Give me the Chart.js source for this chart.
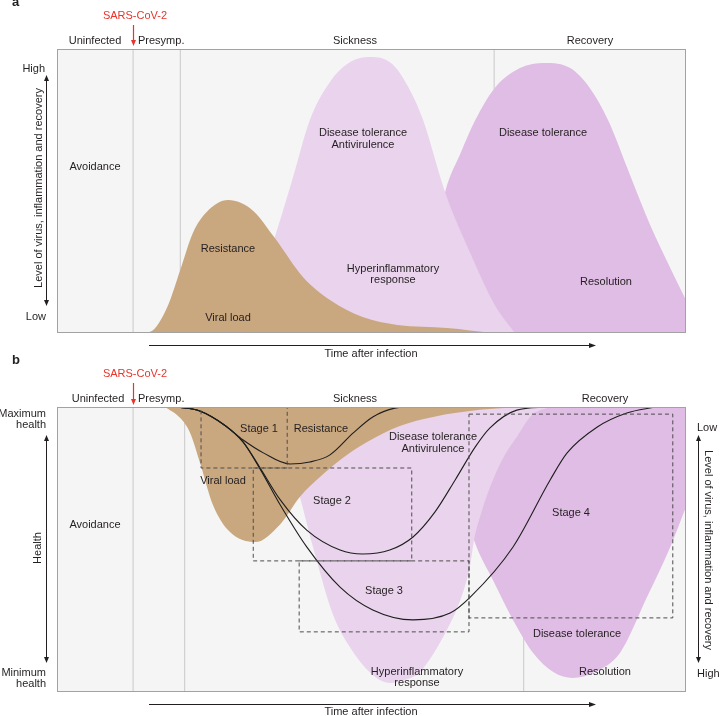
<!DOCTYPE html>
<html>
<head>
<meta charset="utf-8">
<script src="https://cdn.jsdelivr.net/npm/chart.js@4.4.1/dist/chart.umd.min.js"></script>
<style>
  html, body { margin: 0; padding: 0; background: #fff; }
  body { width: 720px; height: 716px; position: relative; overflow: hidden; }
  canvas { position: absolute; left: 0; top: 0; }
</style>
</head>
<body>
<canvas id="panelA" width="720" height="716"></canvas>
<canvas id="panelB" width="720" height="716"></canvas>
<script>
// x = time after infection (0-100), y = level (0 low .. 100 high) / health (0 min .. 100 max)
const phases = ['Uninfected', 'Presymp.', 'Sickness', 'Recovery'];
const phaseLinesA = [12.1, 19.6, 69.5];
const phaseLinesB = [12.1, 20.3, 74.2];

// panel a - levels
const viralA = [[13.2,0],[14.8,0.4],[17.5,9],[19.6,22.2],[21.6,35.2],[23.8,42.6],[27.2,46.8],[31.2,43.0],[34.6,33.5],[39.1,19.7],[43.4,11.6],[48.6,5.6],[54.1,2.8],[62.0,1.8],[69.3,0]];
const sicknessA = [[29.1,0],[31.5,11.6],[34.6,33.5],[37.4,53.9],[40.2,75.0],[43.4,88.4],[46.6,95.4],[49.8,97.2],[53.3,94.7],[56.1,85.6],[58.2,75.0],[61.7,49.6],[65.7,28.2],[69.6,9.9],[72.8,0]];
const recoveryA = [[54.5,0],[59.3,22.2],[61.7,49.6],[64.1,63.0],[66.5,75.0],[69.6,86.3],[73.6,93.3],[77.6,95.1],[81.6,93.3],[84.7,86.3],[87.6,75.0],[91.1,55.6],[94.3,38.0],[97.5,22.9],[100,11.6]];

// panel b - same processes hanging from maximum health
const viralB = [[17.2,100],[19.6,96.1],[21.1,91.2],[22.7,80.7],[24.8,65.6],[27.5,56.1],[31.5,52.6],[35.5,58.9],[38.6,68.4],[41.8,75.4],[45.0,81.4],[49.3,87.7],[54.5,93.3],[59.8,96.5],[67.2,99.0],[73.6,100]];
const sicknessB = [[30.7,100],[35.5,88.4],[38.3,70.9],[40.7,50.9],[43.9,27.0],[47.4,13.0],[50.6,5.3],[52.9,3.2],[55.3,4.2],[57.7,7.0],[62.0,21.8],[64.4,34.0],[65.7,44.6],[66.3,53.3],[67.6,63.9],[69.3,74.4],[71.2,83.2],[73.1,89.5],[75.5,97.2],[78.4,100]];
const recoveryB = [[59.3,100],[63.3,77.9],[66.3,53.3],[69.3,39.3],[72.5,25.3],[75.7,13.7],[78.9,7.0],[82.0,4.9],[85.5,7.0],[89.5,13.7],[93.8,33.3],[97.5,50.9],[100,64.9]];

// health trajectories
const health1 = [[19.1,100],[22.7,98.6],[26.6,93.7],[29.6,88.4],[32.8,83.9],[37.0,80.0],[40.2,80.7],[43.4,83.2],[47.1,90.9],[50.2,96.5],[53.7,99.6],[56.1,100]];
const health2 = [[19.1,100],[22.7,98.6],[26.6,93.7],[29.6,87.7],[32.3,78.6],[35.5,67.4],[39.7,56.8],[45.0,49.8],[48.6,48.4],[52.9,49.8],[56.6,54.4],[60.1,63.2],[63.3,74.4],[66.5,86.0],[68.8,92.6],[73.1,98.9],[77.9,100]];
const health3 = [[19.1,100],[22.7,98.6],[26.6,93.7],[29.6,87.7],[32.3,78.2],[35.5,65.6],[39.7,50.9],[45.0,36.8],[50.2,28.8],[56.6,25.3],[62.5,27.7],[65.7,33.3],[72.5,50.9],[78.4,74.4],[81.1,83.9],[85.9,93.0],[90.6,97.9],[95.1,100]];

// stage boxes [x0, x1, y0, y1]
const stages = [[22.9,36.6,78.6,100],[31.2,56.4,46.0,78.6],[38.5,65.5,21.1,46.0],[65.5,97.9,26.0,97.5]];

const FONT = '11px "Liberation Sans", Arial, sans-serif';
const INK = '#231f20';
const RED = '#e8342b';
const BROWN = '#c9a77f';
const LIGHT = '#ead3ed';
const DARK = '#e0bde4';

const pts = arr => arr.map(p => ({ x: p[0], y: p[1] }));

function area(arr, color, fill, order) {
    return { data: pts(arr), backgroundColor: color, borderWidth: 0, fill: fill, order: order,
             pointRadius: 0, cubicInterpolationMode: 'monotone', tension: 0.4 };
}
function phaseLine(x) {
    return { data: [{x: x, y: 0}, {x: x, y: 100}], borderColor: '#c9c9c9', borderWidth: 1,
             pointRadius: 0, fill: false, order: 9 };
}
function curve(arr) {
    return { data: pts(arr), borderColor: '#1e1e1e', borderWidth: 1.1, fill: false, order: 0,
             pointRadius: 0, cubicInterpolationMode: 'monotone', tension: 0.4 };
}
function box(b) {
    const d = [[b[0],b[3]],[b[1],b[3]],[b[1],b[2]],[b[0],b[2]],[b[0],b[3]]];
    return { data: pts(d), borderColor: '#4d4d4d', borderWidth: 1, borderDash: [4, 3], fill: false,
             order: 0, pointRadius: 0, tension: 0 };
}

// ---- drawing helpers for labels and axis arrows
function txt(ctx, s, x, y, align, color, font) {
    ctx.font = font || FONT;
    ctx.fillStyle = color || INK;
    ctx.textAlign = align || 'center';
    ctx.textBaseline = 'middle';
    ctx.fillText(s, x, y);
}
function rtxt(ctx, s, x, y, ang) {
    ctx.save(); ctx.translate(x, y); ctx.rotate(ang); txt(ctx, s, 0, 0); ctx.restore();
}
function head(ctx, x, y, dir, color) {
    ctx.fillStyle = color || INK;
    ctx.beginPath();
    if (dir === 'up') { ctx.moveTo(x, y); ctx.lineTo(x - 2.5, y + 6); ctx.lineTo(x + 2.5, y + 6); }
    else if (dir === 'down') { ctx.moveTo(x, y); ctx.lineTo(x - 2.5, y - 6); ctx.lineTo(x + 2.5, y - 6); }
    else { ctx.moveTo(x, y); ctx.lineTo(x - 7, y - 2.5); ctx.lineTo(x - 7, y + 2.5); }
    ctx.closePath(); ctx.fill();
}
function seg(ctx, x1, y1, x2, y2, color, w) {
    ctx.strokeStyle = color || INK; ctx.lineWidth = w || 1;
    ctx.beginPath(); ctx.moveTo(x1, y1); ctx.lineTo(x2, y2); ctx.stroke();
}

const framePlugin = {
    id: 'frame',
    beforeDatasetsDraw(chart) {
        const a = chart.chartArea, ctx = chart.ctx;
        ctx.save(); ctx.fillStyle = '#f5f5f5';
        ctx.fillRect(a.left, a.top, a.right - a.left, a.bottom - a.top); ctx.restore();
    },
    afterDraw(chart, args, opts) {
        const a = chart.chartArea, ctx = chart.ctx;
        ctx.save();
        ctx.strokeStyle = '#a2a2a2'; ctx.lineWidth = 1;
        ctx.strokeRect(a.left + 0.5, a.top + 0.5, a.right - a.left - 1, a.bottom - a.top - 1);
        if (opts.draw) opts.draw(ctx, a);
        ctx.restore();
    }
};

function makeChart(id, datasets, top, bottom, draw) {
    return new Chart(document.getElementById(id).getContext('2d'), {
        type: 'line',
        data: { datasets: datasets },
        options: {
            responsive: false, animation: false, devicePixelRatio: 1, events: [],
            layout: { padding: { left: 57, right: 34, top: top, bottom: bottom } },
            scales: {
                x: { type: 'linear', min: 0, max: 100, display: false },
                y: { type: 'linear', min: 0, max: 100, display: false }
            },
            plugins: { legend: { display: false }, tooltip: { enabled: false }, frame: { draw: draw } }
        },
        plugins: [framePlugin]
    });
}

function commonTop(ctx, yText, yLabels, yArrow0, yArrow1, lx) {
    txt(ctx, 'SARS-CoV-2', 135, yText, 'center', RED);
    seg(ctx, 133.5, yArrow0, 133.5, yArrow1 - 5, RED, 1.2);
    head(ctx, 133.5, yArrow1, 'down', RED);
    txt(ctx, phases[0], lx, yLabels);
    txt(ctx, phases[1], 138, yLabels, 'left');
}

// ---- panel a
makeChart('panelA', [
    area(viralA, BROWN, 'origin', 1),
    area(sicknessA, LIGHT, 'origin', 2),
    area(recoveryA, DARK, 'origin', 3),
    ...phaseLinesA.map(phaseLine)
], 49, 383, function (ctx) {
    txt(ctx, 'a', 12, 2, 'left', INK, 'bold 13px "Liberation Sans", Arial, sans-serif');
    commonTop(ctx, 16, 41, 25, 46, 95);
    txt(ctx, phases[2], 355, 41);
    txt(ctx, phases[3], 590, 41);
    // level axis
    seg(ctx, 46.5, 80, 46.5, 301);
    head(ctx, 46.5, 75, 'up'); head(ctx, 46.5, 306, 'down');
    txt(ctx, 'High', 45, 69, 'right');
    txt(ctx, 'Low', 46, 317, 'right');
    rtxt(ctx, 'Level of virus, inflammation and recovery', 39, 188, -Math.PI / 2);
    // time axis
    seg(ctx, 149, 345.5, 590, 345.5);
    head(ctx, 596, 345.5, 'right');
    txt(ctx, 'Time after infection', 371, 354);
    // inner labels
    txt(ctx, 'Avoidance', 95, 167);
    txt(ctx, 'Resistance', 228, 249);
    txt(ctx, 'Viral load', 228, 318);
    txt(ctx, 'Disease tolerance', 363, 133);
    txt(ctx, 'Antivirulence', 363, 145);
    txt(ctx, 'Hyperinflammatory', 393, 269);
    txt(ctx, 'response', 393, 280);
    txt(ctx, 'Disease tolerance', 543, 133);
    txt(ctx, 'Resolution', 606, 282);
});

// ---- panel b
makeChart('panelB', [
    ...stages.map(box),
    curve(health1), curve(health2), curve(health3),
    area(viralB, BROWN, 'end', 1),
    area(sicknessB, LIGHT, 'end', 2),
    area(recoveryB, DARK, 'end', 3),
    ...phaseLinesB.map(phaseLine)
], 407, 24, function (ctx) {
    txt(ctx, 'b', 12, 360, 'left', INK, 'bold 13px "Liberation Sans", Arial, sans-serif');
    commonTop(ctx, 374, 399, 383, 405, 98);
    txt(ctx, phases[2], 355, 399);
    txt(ctx, phases[3], 605, 399);
    // health axis
    seg(ctx, 46.5, 440, 46.5, 658);
    head(ctx, 46.5, 435, 'up'); head(ctx, 46.5, 663, 'down');
    txt(ctx, 'Maximum', 46, 414, 'right');
    txt(ctx, 'health', 46, 425, 'right');
    txt(ctx, 'Minimum', 46, 673, 'right');
    txt(ctx, 'health', 46, 684, 'right');
    rtxt(ctx, 'Health', 38, 548, -Math.PI / 2);
    // level axis on the right
    seg(ctx, 698.5, 440, 698.5, 658);
    head(ctx, 698.5, 435, 'up'); head(ctx, 698.5, 663, 'down');
    txt(ctx, 'Low', 697, 428, 'left');
    txt(ctx, 'High', 697, 674, 'left');
    rtxt(ctx, 'Level of virus, inflammation and recovery', 708, 550, Math.PI / 2);
    // time axis
    seg(ctx, 149, 704.5, 590, 704.5);
    head(ctx, 596, 704.5, 'right');
    txt(ctx, 'Time after infection', 371, 712);
    // inner labels
    txt(ctx, 'Avoidance', 95, 525);
    txt(ctx, 'Stage 1', 259, 429);
    txt(ctx, 'Resistance', 321, 429);
    txt(ctx, 'Viral load', 223, 481);
    txt(ctx, 'Disease tolerance', 433, 437);
    txt(ctx, 'Antivirulence', 433, 449);
    txt(ctx, 'Stage 2', 332, 501);
    txt(ctx, 'Stage 3', 384, 591);
    txt(ctx, 'Stage 4', 571, 513);
    txt(ctx, 'Disease tolerance', 577, 634);
    txt(ctx, 'Resolution', 605, 672);
    txt(ctx, 'Hyperinflammatory', 417, 672);
    txt(ctx, 'response', 417, 683);
});
</script>
</body>
</html>
